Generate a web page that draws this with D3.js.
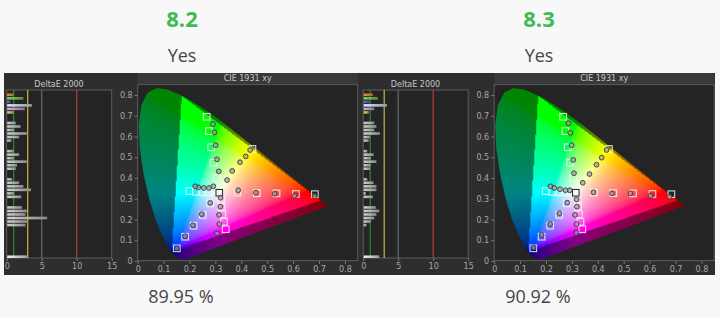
<!DOCTYPE html>
<meta charset="utf-8">
<style>
body { margin: 0; background: #f8f8f8; font-family: "Open Sans", sans-serif; }
.score { font-size: 22px; font-weight: 700; fill: #3fbb55; text-anchor: middle; }
.yes, .pct { font-size: 18px; fill: #474747; text-anchor: middle; }
.tick text { fill: #a8a8a8; font-size: 8px; font-family: "DejaVu Sans", sans-serif; }
.tick line { stroke: #777; }
.ttl { fill: #c8c8c8; font-size: 8px; font-family: "DejaVu Sans", sans-serif; text-anchor: middle; }
</style>
<body>
<script src="https://d3js.org/d3.v7.min.js"></script>
<script>
// header / footer texts
const scores = ["8.2", "8.3"];
const answers = ["Yes", "Yes"];
const coverage = ["89.95 %", "90.92 %"];

// DeltaE 2000 chart
const deTicks = [0, 5, 10, 15];
const deRefValues = [1, 3, 5, 10];
const deRefColors = ["#2c8a34", "#c9b83a", "#6a6a6a", "#b53a3a"];
const patchColors = ["R", "G", "B", "C", "M", "Y"];
const patchLevels = ["100", "80", "60", "40", "20"];
const firstGroupFill = ["#e39a3e", "#86d452", "#5c6fe0", "#d6f2ff", "#e6a8dc", "#e5d36a"];
const deltaLeft = [
  [0.95, 2.3, 0.5, 3.5, 2.5, 0.9],
  [1.2, 1.9, 1.0, 2.8, 1.7, 0.6],
  [0.9, 1.7, 1.0, 2.8, 1.4, 1.2],
  [0.7, 1.7, 2.3, 3.4, 1.0, 2.0],
  [2.1, 2.8, 2.6, 5.7, 2.8, 2.6]
];
const deltaLeftWhite = 2.8;
const deltaRight = [
  [1.3, 2.0, 0.9, 3.3, 1.5, 0.7],
  [1.5, 1.8, 1.5, 2.3, 0.9, 0.7],
  [0.5, 1.4, 1.0, 1.8, 1.0, 0.9],
  [0.5, 1.4, 1.8, 1.8, 0.3, 1.3],
  [1.7, 2.2, 1.8, 1.5, 1.0, 0.4]
];
const deltaRightWhite = 2.2;

// CIE 1931 xy chart
const cieTicks = [0, 0.1, 0.2, 0.3, 0.4, 0.5, 0.6, 0.7, 0.8];
const locus = [
  [0.1741,0.0050],[0.1738,0.0049],[0.1733,0.0048],[0.1726,0.0048],[0.1714,0.0051],
  [0.1703,0.0058],[0.1689,0.0069],[0.1669,0.0086],[0.1644,0.0109],[0.1611,0.0138],
  [0.1566,0.0177],[0.1510,0.0227],[0.1440,0.0297],[0.1355,0.0399],[0.1241,0.0578],
  [0.1096,0.0868],[0.0913,0.1327],[0.0687,0.2007],[0.0454,0.2950],[0.0235,0.4127],
  [0.0082,0.5384],[0.0039,0.6548],[0.0139,0.7502],[0.0389,0.8120],[0.0743,0.8338],
  [0.1142,0.8262],[0.1547,0.8059],[0.1929,0.7816],[0.2296,0.7543],[0.2658,0.7243],
  [0.3016,0.6923],[0.3373,0.6589],[0.3731,0.6245],[0.4087,0.5896],[0.4441,0.5547],
  [0.4788,0.5202],[0.5125,0.4866],[0.5448,0.4544],[0.5752,0.4242],[0.6029,0.3965],
  [0.6270,0.3725],[0.6482,0.3514],[0.6658,0.3340],[0.6801,0.3197],[0.6915,0.3083],
  [0.7006,0.2993],[0.7079,0.2920],[0.7140,0.2859],[0.7190,0.2809],[0.7230,0.2770],
  [0.7260,0.2740],[0.7300,0.2700],[0.7320,0.2680],[0.7334,0.2666],[0.7347,0.2653]
];
const gamutTriangle = [[0.708, 0.292], [0.170, 0.797], [0.131, 0.046]];
const targets = [
  [0.385,0.330],[0.460,0.327],[0.536,0.326],[0.611,0.323],[0.684,0.322],
  [0.305,0.401],[0.293,0.474],[0.284,0.548],[0.275,0.626],[0.266,0.695],
  [0.280,0.278],[0.251,0.222],[0.216,0.170],[0.183,0.117],[0.151,0.061],
  [0.296,0.330],[0.273,0.330],[0.249,0.332],[0.225,0.333],[0.199,0.337],
  [0.322,0.297],[0.324,0.262],[0.327,0.225],[0.333,0.189],[0.340,0.153],
  [0.443,0.540]
];
const whitePoint = [0.315, 0.329];
const measuredLeft = [
  [0.388,0.341],[0.456,0.329],[0.529,0.324],[0.606,0.315],[0.683,0.313],
  [0.313,0.432],[0.306,0.490],[0.301,0.558],[0.296,0.620],[0.291,0.660],
  [0.280,0.280],[0.247,0.226],[0.213,0.172],[0.183,0.120],[0.151,0.061],
  [0.292,0.360],[0.275,0.352],[0.255,0.352],[0.234,0.355],[0.222,0.360],
  [0.320,0.305],[0.319,0.262],[0.314,0.222],[0.315,0.178],[0.306,0.133],
  [0.345,0.390],[0.365,0.434],[0.395,0.476],[0.417,0.504],[0.434,0.535]
];
const measuredRight = [
  [0.383,0.331],[0.455,0.326],[0.526,0.326],[0.604,0.315],[0.677,0.310],
  [0.308,0.423],[0.305,0.487],[0.299,0.558],[0.294,0.618],[0.287,0.664],
  [0.282,0.281],[0.252,0.230],[0.216,0.178],[0.183,0.125],[0.152,0.064],
  [0.292,0.341],[0.275,0.341],[0.254,0.346],[0.232,0.352],[0.217,0.360],
  [0.318,0.297],[0.319,0.262],[0.312,0.222],[0.318,0.178],[0.317,0.136],
  [0.342,0.377],[0.368,0.419],[0.395,0.464],[0.415,0.498],[0.434,0.535]
];

const width = 720, height = 318;
const svg = d3.select("body").append("svg")
    .attr("width", width)
    .attr("height", height);

// shading over the bars, light on the left, darker to the right
const grad = svg.append("defs").append("linearGradient").attr("id", "barShade");
grad.append("stop").attr("offset", "0%").attr("stop-color", "#000").attr("stop-opacity", 0);
grad.append("stop").attr("offset", "100%").attr("stop-color", "#000").attr("stop-opacity", 0.35);

// slot list for the DeltaE bars (groups of six, spacer slots between)
const slots = ["pad"];
patchLevels.forEach(function(lvl, i) {
  patchColors.forEach(function(c) { slots.push(c + lvl); });
  slots.push("gap" + i + "a", "gap" + i + "b");
});
for (let k = 0; k < 6; k++) slots.push("tail" + k);
slots.push("W");

function gamma(v) {
  return v <= 0.0031308 ? 12.92 * v : 1.055 * Math.pow(v, 1 / 2.4) - 0.055;
}
function xyColor(x, y) {
  y = Math.max(y, 1e-4);
  const X = x / y, Y = 1, Z = (1 - x - y) / y;
  let r = Math.max(0, 3.2406 * X - 1.5372 * Y - 0.4986 * Z);
  let g = Math.max(0, -0.9689 * X + 1.8758 * Y + 0.0415 * Z);
  let b = Math.max(0, 0.0557 * X - 0.2040 * Y + 1.0570 * Z);
  const m = Math.max(r, g, b) || 1;
  return [gamma(r / m), gamma(g / m), gamma(b / m)];
}

// dark screenshot background
svg.append("rect")
    .attr("x", 4).attr("y", 73)
    .attr("width", 711).attr("height", 202)
    .attr("fill", "#2e2e2e");

function drawPanel(px, deltas, deltaWhite, measured, id) {
  const g = svg.append("g").attr("transform", "translate(" + px + ",73)");

  // ---- DeltaE 2000 ----
  const xd = d3.scaleLinear().domain([0, 15]).range([2.7, 107.7]);
  const yd = d3.scaleBand().domain(slots).range([17, 185]).paddingInner(0.28);

  g.append("text").attr("class", "ttl").attr("x", 55).attr("y", 14).text("DeltaE 2000");
  g.append("rect")
      .attr("x", xd(0)).attr("y", 17)
      .attr("width", xd(15) - xd(0)).attr("height", 168)
      .attr("fill", "#242424").attr("stroke", "#5c5c5c");

  g.selectAll(".ref")
      .data(deRefValues)
    .enter().append("line")
      .attr("x1", d => xd(d)).attr("x2", d => xd(d))
      .attr("y1", 17).attr("y2", 185)
      .attr("stroke", (d, i) => deRefColors[i])
      .attr("stroke-width", 1.2);

  const bars = [];
  deltas.forEach(function(row, i) {
    row.forEach(function(v, j) {
      bars.push({ key: patchColors[j] + patchLevels[i], v: v,
                  fill: i === 0 ? firstGroupFill[j] : "#d2d2d2" });
    });
  });
  bars.push({ key: "W", v: deltaWhite, fill: "#f2f2f2" });

  const bar = g.selectAll(".bar")
      .data(bars)
    .enter().append("g");
  bar.append("rect")
      .attr("x", xd(0) + 0.5)
      .attr("y", d => yd(d.key))
      .attr("width", d => xd(d.v) - xd(0))
      .attr("height", yd.bandwidth())
      .attr("fill", d => d.fill);
  bar.append("rect")
      .attr("x", xd(0) + 0.5)
      .attr("y", d => yd(d.key))
      .attr("width", d => xd(d.v) - xd(0))
      .attr("height", yd.bandwidth())
      .attr("fill", "url(#barShade)");

  g.append("g")
      .attr("transform", "translate(0,185)")
      .call(d3.axisBottom(xd).tickValues(deTicks).tickSize(3).tickPadding(2))
      .call(a => a.select(".domain").remove());

  // ---- CIE 1931 xy ----
  const xc = d3.scaleLinear().domain([0, 0.85]).range([133.7, 133.7 + 0.85 * 259]);
  const yc = d3.scaleLinear().domain([0, 0.85]).range([188, 188 - 0.85 * 207.5]);
  const left = xc(0), top = yc(0.85);
  const w = Math.round(xc(0.85) - left), h = Math.round(yc(0) - top);

  g.append("rect")
      .attr("x", left).attr("y", 0)
      .attr("width", w).attr("height", top)
      .attr("fill", "#393939");
  g.append("text").attr("class", "ttl").attr("x", left + w / 2).attr("y", 8).text("CIE 1931 xy");
  g.append("rect")
      .attr("x", left).attr("y", top)
      .attr("width", w).attr("height", h)
      .attr("fill", "#242424").attr("stroke", "#5c5c5c");

  // colour field of the horseshoe
  const canvas = document.createElement("canvas");
  canvas.width = w; canvas.height = h;
  const ctx = canvas.getContext("2d");
  const img = ctx.createImageData(w, h);
  for (let j = 0; j < h; j++) {
    for (let i = 0; i < w; i++) {
      const x = xc.invert(left + i + 0.5), y = yc.invert(top + j + 0.5);
      const c = xyColor(x, y);
      const k = d3.polygonContains(gamutTriangle, [x, y]) ? 1 : 0.52;
      const o = (j * w + i) * 4;
      img.data[o] = c[0] * 255 * k;
      img.data[o + 1] = c[1] * 255 * k;
      img.data[o + 2] = c[2] * 255 * k;
      img.data[o + 3] = 255;
    }
  }
  ctx.putImageData(img, 0, 0);

  const line = d3.line().x(d => xc(d[0])).y(d => yc(d[1]));
  g.append("clipPath").attr("id", "clip" + id)
    .append("path").attr("d", line(locus) + "Z");
  g.append("image")
      .attr("x", left).attr("y", top)
      .attr("width", w).attr("height", h)
      .attr("href", canvas.toDataURL())
      .attr("clip-path", "url(#clip" + id + ")");

  g.append("g")
      .attr("transform", "translate(0," + yc(0) + ")")
      .call(d3.axisBottom(xc).tickValues(cieTicks).tickFormat(d3.format("~g")).tickSize(3).tickPadding(2))
      .call(a => a.select(".domain").remove());
  g.append("g")
      .attr("transform", "translate(" + left + ",0)")
      .call(d3.axisLeft(yc).tickValues(cieTicks).tickFormat(d3.format("~g")).tickSize(3).tickPadding(2))
      .call(a => a.select(".domain").remove());

  // target squares
  g.selectAll(".tgt")
      .data(targets)
    .enter().append("rect")
      .attr("x", d => xc(d[0]) - 3.3)
      .attr("y", d => yc(d[1]) - 3.3)
      .attr("width", 6.6).attr("height", 6.6)
      .attr("fill", "none")
      .attr("stroke", "#f4f4f4")
      .attr("stroke-opacity", 0.85)
      .attr("stroke-width", 1.1);
  g.append("rect")
      .attr("x", xc(whitePoint[0]) - 3.3).attr("y", yc(whitePoint[1]) - 3.3)
      .attr("width", 6.6).attr("height", 6.6)
      .attr("fill", "none").attr("stroke", "#f4f4f4").attr("stroke-width", 2.2);
  g.append("rect")
      .attr("x", xc(whitePoint[0]) - 3.3).attr("y", yc(whitePoint[1]) - 3.3)
      .attr("width", 6.6).attr("height", 6.6)
      .attr("fill", "none").attr("stroke", "#222").attr("stroke-width", 1);

  // measured points
  g.selectAll(".meas")
      .data(measured)
    .enter().append("circle")
      .attr("cx", d => xc(d[0]))
      .attr("cy", d => yc(d[1]))
      .attr("r", 2.4)
      .attr("fill", "#9a9a9a")
      .attr("fill-opacity", 0.7)
      .attr("stroke", "#3a3a3a")
      .attr("stroke-width", 0.9);
}

drawPanel(4, deltaLeft, deltaLeftWhite, measuredLeft, "L");
drawPanel(360.5, deltaRight, deltaRightWhite, measuredRight, "R");

// header and footer texts
const centers = [182, 539];
svg.selectAll(".score").data(scores).enter().append("text")
    .attr("class", "score").attr("x", (d, i) => centers[i]).attr("y", 27).text(d => d);
svg.selectAll(".yes").data(answers).enter().append("text")
    .attr("class", "yes").attr("x", (d, i) => centers[i]).attr("y", 62).text(d => d);
svg.selectAll(".pct").data(coverage).enter().append("text")
    .attr("class", "pct").attr("x", (d, i) => centers[i] - 1).attr("y", 303).text(d => d);
</script>
</body>
